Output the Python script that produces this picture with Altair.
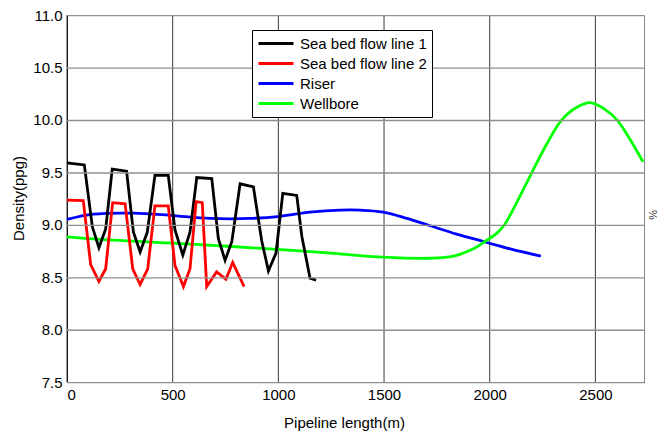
import altair as alt
import pandas as pd

# ---- data ----
series_names = ["Sea bed flow line 1", "Sea bed flow line 2", "Riser", "Wellbore"]
series_colors = ["#000000", "#ff0000", "#0000ff", "#00ff00"]

flow1_x = [0, 82, 120, 151, 183, 214, 282, 314, 346, 380, 416, 479, 511, 548, 582, 614,
           685, 716, 748, 780, 819, 882, 921, 953, 989, 1021, 1087, 1111, 1150, 1178]
flow1_y = [9.59, 9.57, 8.98, 8.78, 8.96, 9.53, 9.51, 8.93, 8.74, 8.93, 9.47, 9.47, 8.95, 8.71, 8.93, 9.45,
           9.44, 8.87, 8.66, 8.84, 9.39, 9.36, 8.85, 8.56, 8.73, 9.30, 9.28, 8.89, 8.49, 8.47]

flow2_x = [0, 77, 112, 151, 183, 216, 275, 311, 346, 382, 416, 479, 511, 551, 582, 611,
           640, 661, 708, 752, 784, 838]
flow2_y = [9.235, 9.23, 8.62, 8.46, 8.58, 9.21, 9.20, 8.58, 8.43, 8.58, 9.18, 9.18, 8.61, 8.41, 8.58, 9.22,
           9.21, 8.41, 8.55, 8.48, 8.64, 8.41]

riser_x = [0, 125, 314, 487, 677, 866, 1008, 1150, 1292, 1387, 1497, 1608, 1718, 1844, 1970, 2097, 2242]
riser_y = [9.05, 9.10, 9.11, 9.09, 9.06, 9.06, 9.08, 9.12, 9.14, 9.14, 9.12, 9.06, 8.99, 8.91, 8.84, 8.77, 8.70]

well_x = [0, 156, 630, 1103, 1245, 1497, 1718, 1829, 1923, 1970, 2034, 2070, 2130, 2200, 2270, 2341,
          2412, 2475, 2538, 2602, 2665, 2725]
well_y = [8.885, 8.86, 8.81, 8.75, 8.73, 8.69, 8.68, 8.70, 8.77, 8.83, 8.92, 9.00, 9.22, 9.50, 9.77, 10.0,
          10.12, 10.165, 10.11, 10.0, 9.81, 9.60]

x_domain = [0, 2730]
y_domain = [7.5, 11.0]
x_ticks = [0, 500, 1000, 1500, 2000, 2500]
y_ticks = [7.5, 8.0, 8.5, 9.0, 9.5, 10.0, 10.5, 11.0]


def frame(name, xs, ys):
    return pd.DataFrame({"series": name, "x": xs, "y": ys, "order": range(len(xs))})


df_lin = pd.concat([frame(series_names[0], flow1_x, flow1_y),
                    frame(series_names[1], flow2_x, flow2_y)])
df_smooth = pd.concat([frame(series_names[2], riser_x, riser_y),
                       frame(series_names[3], well_x, well_y)])

FONT = "Liberation Sans"

xscale = alt.Scale(domain=x_domain, nice=False, zero=False)
yscale = alt.Scale(domain=y_domain, nice=False, zero=False)

xenc = alt.X("x:Q", scale=xscale,
             axis=alt.Axis(values=x_ticks, format="d", title="Pipeline length(m)",
                           grid=False, titleX=277, titleY=40,
                           titleBaseline="middle", titleAnchor="middle"))
yenc = alt.Y("y:Q", scale=yscale,
             axis=alt.Axis(values=y_ticks, format=".1f", title="Density(ppg)",
                           grid=False, titleX=-49, titleY=183,
                           titleBaseline="middle", titleAngle=270, titleAnchor="middle"))
cenc = alt.Color("series:N",
                 scale=alt.Scale(domain=series_names, range=series_colors),
                 legend=alt.Legend(orient="none", legendX=185, legendY=15, title=None,
                                   strokeColor="black", fillColor="white", padding=5,
                                   symbolType="stroke", symbolSize=1225, symbolStrokeWidth=3,
                                   clipHeight=17,
                                   labelFontSize=15, labelFont=FONT, labelColor="black",
                                   rowPadding=3, labelOffset=5, cornerRadius=0))

# vertical grid lines from the x tick list
xgrid = alt.Chart(pd.DataFrame({"x": x_ticks})).mark_rule(
    color="#3a3a3a", strokeWidth=1).encode(x=xenc)

# horizontal grid lines from the y tick list, as thin bands across the x domain
df_hgrid = pd.DataFrame({"y": y_ticks})
ygrid = alt.Chart(df_hgrid).transform_calculate(
    y2="datum.y - 0.013", xa=str(x_domain[0]), xb=str(x_domain[1])
).mark_rect(color="#8f8f8f", opacity=1).encode(
    y=yenc, y2="y2:Q", x=alt.X("xa:Q", scale=xscale), x2="xb:Q")

lin = alt.Chart(df_lin).mark_line(strokeWidth=2.8).encode(
    x=xenc, y=yenc, color=cenc, order="order:Q")
smooth = alt.Chart(df_smooth).mark_line(strokeWidth=2.8, interpolate="catmull-rom").encode(
    x=xenc, y=yenc, color=cenc, order="order:Q")

stray = alt.Chart(pd.DataFrame({"t": ["%"]})).mark_text(
    angle=90, fontSize=11, font=FONT, color="#333333").encode(
    text="t:N", x=alt.value(585), y=alt.value(200))

chart = alt.layer(xgrid, smooth, lin, stray, ygrid).properties(
    width=577, height=367,
    autosize=alt.AutoSizeParams(type="none"),
    padding={"left": 67, "top": 15, "right": 17, "bottom": 55},
    background="white",
).configure_view(
    stroke="#888888", strokeWidth=1
).configure_axis(
    labelFont=FONT, labelFontSize=15, labelColor="black",
    titleFont=FONT, titleFontSize=15, titleColor="black", titleFontWeight="normal",
    domainColor="black", domainWidth=1, ticks=False,
    labelPadding=5
)

chart.save("out.html", embed_options={"renderer": "svg", "actions": False})
